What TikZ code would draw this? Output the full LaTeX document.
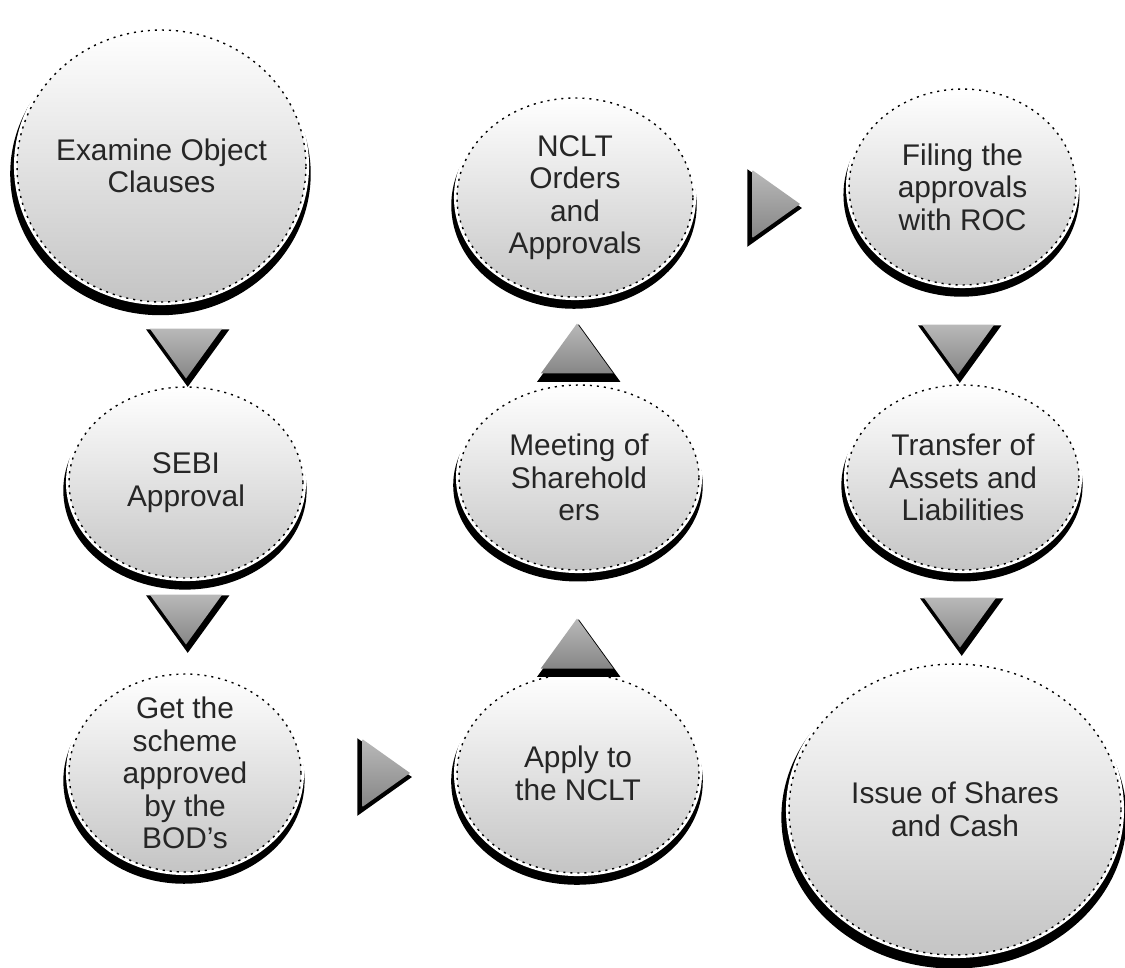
\documentclass[tikz,border=0pt]{standalone}
\usepackage{fontspec}
\setmainfont{Liberation Sans}
\usepackage{tikz}
\usetikzlibrary{positioning, shapes.geometric, shadows}

\begin{document}
\begin{tikzpicture}[
  x=0.02cm, y=-0.02cm,
  stage/.style={ellipse, inner sep=-0.5cm, align=center, text=black!85,
    font=\fontsize{17}{18.5}\selectfont,
    top color=white, bottom color=gray!46,
    drop shadow={shadow xshift=-0.02cm, shadow yshift=-0.15cm,
      shadow scale=1.04, fill=black, opacity=1},
    preaction={draw=white, solid, line width=3.5pt},
    draw=black, line width=0.8pt, dash pattern=on 1.2pt off 2.8pt},
  flow/.style={isosceles triangle, isosceles triangle stretches,
    inner sep=0pt, top color=gray!55, bottom color=gray!95},
  down/.style={flow, shape border rotate=270,
    minimum width=1.45cm, minimum height=1.0cm,
    drop shadow={shadow xshift=0.03cm, shadow yshift=-0.08cm,
      shadow scale=1.15, fill=black, opacity=1}},
  up/.style={flow, shape border rotate=90,
    minimum width=1.45cm, minimum height=1.0cm,
    drop shadow={shadow xshift=0.03cm, shadow yshift=-0.08cm,
      shadow scale=1.15, fill=black, opacity=1}},
  right/.style={flow, shape border rotate=0,
    minimum width=1.35cm, minimum height=0.95cm,
    drop shadow={shadow xshift=-0.03cm, shadow yshift=-0.07cm,
      shadow scale=1.15, fill=black, opacity=1}},
]
\useasboundingbox (0,0) rectangle (1125,967);

% ===== LEFT COLUMN =====
\node[stage, minimum width=5.78cm, minimum height=5.44cm] (exam)
  at (161.5, 166) {Examine Object\\Clauses};
\node[stage, minimum width=4.68cm, minimum height=3.82cm] (sebi)
  at (186, 482.5) {SEBI\\Approval};
\node[stage, minimum width=4.64cm, minimum height=3.96cm] (bod)
  at (185, 773) {Get the\\scheme\\approved\\by the\\BOD's};

\node[down] (a1) at (186, 347) {};
\node[down] (a2) at (186, 613) {};

% ===== MIDDLE COLUMN =====
\node[stage, minimum width=4.84cm, minimum height=3.98cm] (apply)
  at (578, 773.5) {Apply to\\the NCLT};
\node[stage, minimum width=4.80cm, minimum height=3.70cm] (meet)
  at (579, 477.5) {Meeting of\\Sharehold\\ers};
\node[stage, minimum width=4.72cm, minimum height=3.98cm] (nclt)
  at (575, 197.5) {NCLT\\Orders\\and\\Approvals};

\node[right] (a3) at (380, 773) {};
\node[up] (a4) at (577, 650) {};
\node[up] (a5) at (577, 355) {};

% ===== RIGHT COLUMN =====
\node[stage, minimum width=4.54cm, minimum height=3.92cm] (filing)
  at (962.5, 187) {Filing the\\approvals\\with ROC};
\node[stage, minimum width=4.64cm, minimum height=3.70cm] (transfer)
  at (963, 477.5) {Transfer of\\Assets and\\Liabilities};
\node[stage, minimum width=6.64cm, minimum height=5.82cm] (issue)
  at (955, 809.5) {Issue of Shares\\and Cash};

\node[right] (a6) at (770, 204) {};
\node[down] (a7) at (958, 343) {};
\node[down] (a8) at (960, 616) {};

\end{tikzpicture}
\end{document}
